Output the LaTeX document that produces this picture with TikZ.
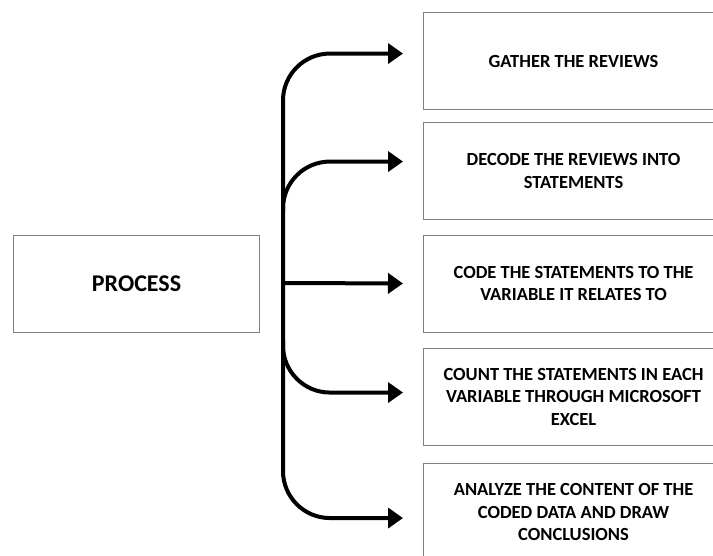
\documentclass[tikz,border=0pt]{standalone}
\usepackage{fontspec}
\setmainfont{Carlito}
\usetikzlibrary{arrows.meta}
\begin{document}
\begin{tikzpicture}[x=1pt,y=-1pt,
  box/.style={draw=black!50,line width=1.1pt,minimum width=300pt,minimum height=97pt,
    anchor=north west,align=center,inner sep=0pt,
    font=\fontsize{18.5}{22.5}\selectfont\bfseries},
  flow/.style={line width=4pt,-{Triangle[length=15pt,width=20pt]},shorten >=20pt},
  roundbend/.style={rounded corners=47pt}]
\useasboundingbox (0,0) rectangle (713,555);
\clip (0,0) rectangle (713,555);
\node[box,minimum width=246pt,font=\fontsize{24}{28}\selectfont\bfseries] (p) at (13,235) {PROCESS};
\node[box] (b1) at (423,12) {GATHER THE REVIEWS};
\node[box] (b2) at (423,122) {DECODE THE REVIEWS INTO\\STATEMENTS};
\node[box] (b3) at (423,234.5) {CODE THE STATEMENTS TO THE\\VARIABLE IT RELATES TO};
\node[box] (b4) at (423,347.5) {COUNT THE STATEMENTS IN EACH\\VARIABLE THROUGH MICROSOFT\\EXCEL};
\node[box] (b5) at (423,463) {ANALYZE THE CONTENT OF THE\\CODED DATA AND DRAW\\CONCLUSIONS};
\coordinate (t) at (283,283);
\coordinate (t2) at (283,212);
\coordinate (t4) at (283,340);
\draw[flow,roundbend] (t) |- ([yshift=7.5pt]b1.west);
\draw[flow,roundbend] (t2) |- ([yshift=9.5pt]b2.west);
\draw[flow] (t) -- (b3.west);
\draw[flow,roundbend] (t4) |- ([yshift=4pt]b4.west);
\draw[flow,roundbend] (t) |- ([yshift=-6pt]b5.west);
\end{tikzpicture}
\end{document}
